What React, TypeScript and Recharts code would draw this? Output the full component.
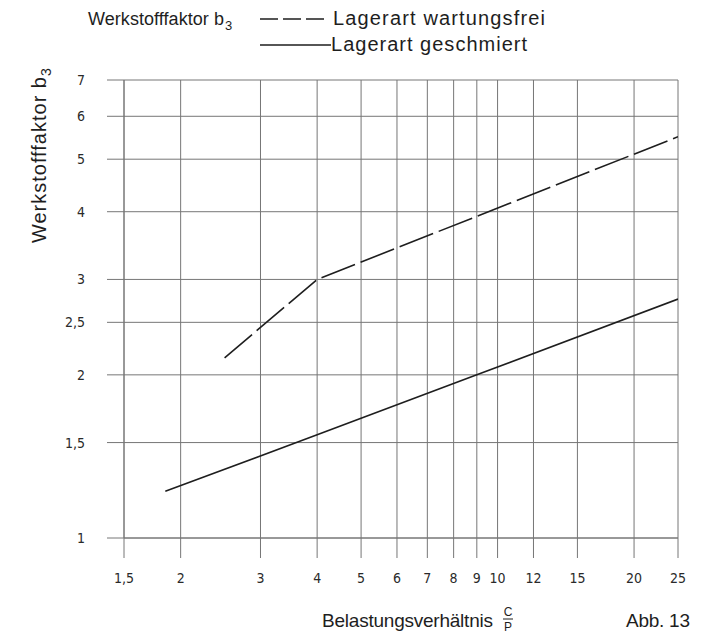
import { CartesianGrid, Line, LineChart, XAxis, YAxis } from 'recharts'

// C/P values on the x axis, b3 on the y axis (both log)
const xTicks = [1.5, 2, 3, 4, 5, 6, 7, 8, 9, 10, 12, 15, 20, 25]
const yTicks = [1, 1.5, 2, 2.5, 3, 4, 5, 6, 7]

const wartungsfreiCP = [2.5, 4, 25]
const wartungsfreiB3 = [2.15, 3, 5.5]

const geschmiertCP = [1.85, 4, 9, 25]
const geschmiertB3 = [1.22, 1.55, 2.0, 2.76]

const wartungsfrei = wartungsfreiCP.map((x, i) => ({ x, y: wartungsfreiB3[i] }))
const geschmiert = geschmiertCP.map((x, i) => ({ x, y: geschmiertB3[i] }))

const comma = (v: number) => String(v).replace('.', ',')

const textFont = '"Liberation Sans", Arial, sans-serif'
const tickFont = '"Liberation Sans Narrow", "DejaVu Sans Condensed", sans-serif'
const grid = '#767676'
const ink = '#1e1e1e'

export default function App() {
  return (
    <div style={{ position: 'absolute', left: 0, top: 0, width: 702, height: 635, background: '#fff' }}>
      <LineChart width={702} height={635} margin={{ top: 80, right: 24, bottom: 0, left: 0 }}>
        <CartesianGrid stroke={grid} strokeWidth={1} syncWithTicks />
        <XAxis
          type="number"
          dataKey="x"
          scale="log"
          domain={[1.5, 25]}
          ticks={xTicks}
          allowDataOverflow
          height={97}
          tickSize={20}
          tickMargin={15}
          tickFormatter={comma}
          stroke={grid}
          tick={{ fill: '#2a2a2a', fontSize: 14, fontFamily: tickFont }}
        />
        <YAxis
          type="number"
          dataKey="y"
          scale="log"
          domain={[1, 7]}
          ticks={yTicks}
          allowDataOverflow
          width={124}
          tickSize={17}
          tickMargin={22}
          tickFormatter={comma}
          stroke={grid}
          tick={{ fill: '#2a2a2a', fontSize: 14, fontFamily: tickFont }}
        />
        <Line
          data={wartungsfrei}
          dataKey="y"
          type="linear"
          stroke={ink}
          strokeWidth={1.6}
          strokeDasharray="36 6"
          dot={false}
          isAnimationActive={false}
        />
        <Line
          data={geschmiert}
          dataKey="y"
          type="linear"
          stroke={ink}
          strokeWidth={1.6}
          dot={false}
          isAnimationActive={false}
        />
      </LineChart>

      <svg
        width={702}
        height={635}
        style={{ position: 'absolute', left: 0, top: 0, pointerEvents: 'none' }}
        fontFamily={textFont}
        fill={ink}
      >
        {/* legend */}
        <text x={88} y={25} fontSize={18} textLength={136} lengthAdjust="spacing">
          Werkstofffaktor b
        </text>
        <text x={225} y={30} fontSize={13}>3</text>
        <line x1={260} y1={19} x2={325} y2={19} stroke={ink} strokeWidth={1.4} strokeDasharray="18 5" />
        <text x={333} y={25} fontSize={20} textLength={212} lengthAdjust="spacing">
          Lagerart wartungsfrei
        </text>
        <line x1={260} y1={45} x2={331} y2={45} stroke={ink} strokeWidth={1.4} />
        <text x={331} y={51} fontSize={20} textLength={196} lengthAdjust="spacing">
          Lagerart geschmiert
        </text>

        {/* y title */}
        <g transform="translate(46,243) rotate(-90)">
          <text x={0} y={0} fontSize={20} textLength={166} lengthAdjust="spacing">
            Werkstofffaktor b
          </text>
          <text x={167} y={5} fontSize={14}>3</text>
        </g>

        {/* x title */}
        <text x={322} y={627} fontSize={19} textLength={171} lengthAdjust="spacing">
          Belastungsverhältnis
        </text>
        <text x={508} y={616} fontSize={12} textAnchor="middle">C</text>
        <line x1={503} y1={619} x2={513} y2={619} stroke={ink} strokeWidth={1} />
        <text x={508} y={631} fontSize={12} textAnchor="middle">P</text>
        <text x={626} y={627} fontSize={19} textLength={64} lengthAdjust="spacing">
          Abb. 13
        </text>
      </svg>
    </div>
  )
}
